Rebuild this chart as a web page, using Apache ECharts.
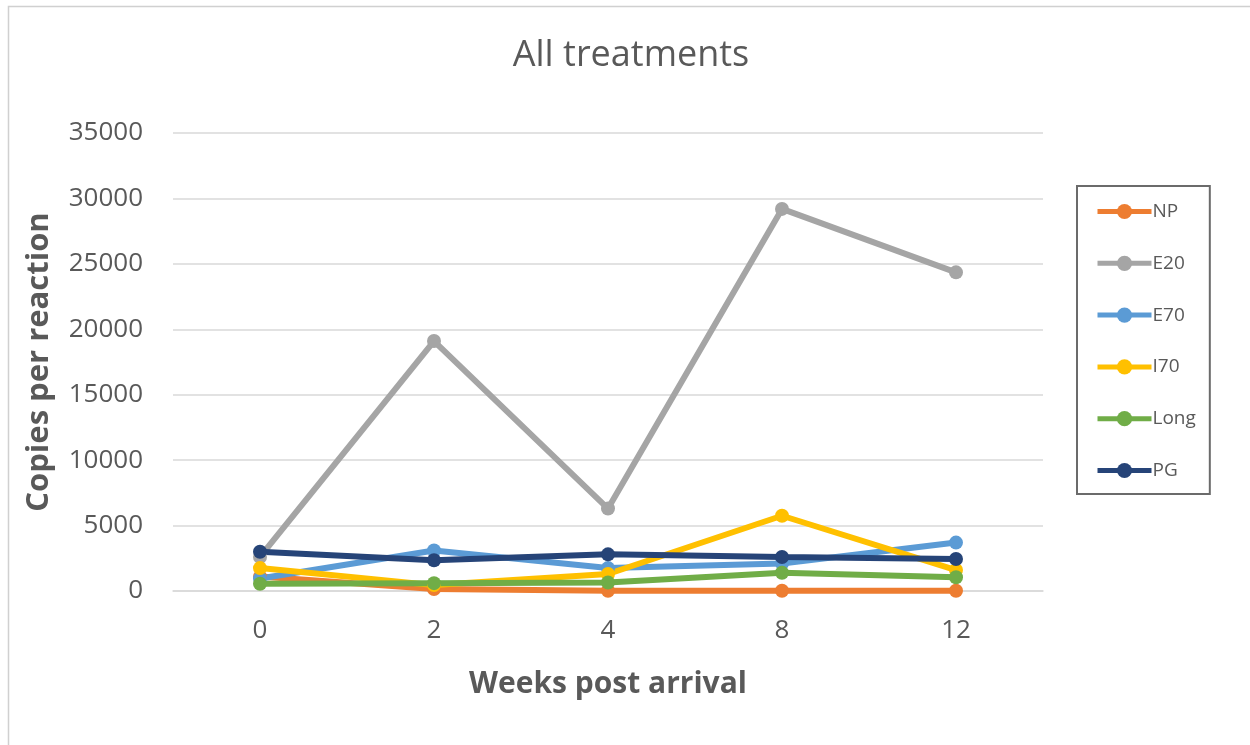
<!DOCTYPE html>
<html>
<head>
<meta charset="utf-8">
<title>All treatments</title>
<script src="https://cdn.jsdelivr.net/npm/echarts@6/dist/echarts.min.js"></script>
<style>
  html, body { margin: 0; padding: 0; background: #ffffff; }
  #chart { width: 1250px; height: 745px; }
</style>
</head>
<body>
<div id="chart"></div>
<script>
// Sampling weeks after arrival
const weeks = ['0', '2', '4', '8', '12'];

// Copies per reaction for each treatment
const NP   = [1100, 150, 20, 20, 20];
const E20  = [2600, 19100, 6300, 29200, 24350];
const E70  = [950, 3100, 1750, 2100, 3700];
const I70  = [1750, 450, 1300, 5750, 1600];
const Long = [550, 600, 650, 1400, 1050];
const PG   = [3000, 2350, 2800, 2600, 2450];

const yTicks = { min: 0, max: 35000, step: 5000 };

const seriesDefs = [
  { name: 'NP',   data: NP,   color: '#ed7d31' },
  { name: 'E20',  data: E20,  color: '#a5a5a5' },
  { name: 'E70',  data: E70,  color: '#5b9bd5' },
  { name: 'I70',  data: I70,  color: '#ffc000' },
  { name: 'Long', data: Long, color: '#70ad47' },
  { name: 'PG',   data: PG,   color: '#264478' }
];

const textColor = '#595959';
const fontFamily = '"Open Sans", Lato, "Noto Sans", sans-serif';

const chart = echarts.init(document.getElementById('chart'), null, { renderer: 'canvas' });

chart.setOption({
  animation: false,
  backgroundColor: '#ffffff',
  textStyle: { fontFamily: fontFamily },
  graphic: [
    {
      type: 'rect',
      shape: { x: 8.5, y: 6.5, width: 1260, height: 760 },
      style: { fill: 'none', stroke: '#d0d0d0', lineWidth: 1.5 },
      silent: true
    }
  ],
  title: {
    text: 'All treatments',
    left: 626,
    top: 33,
    textAlign: 'center',
    textStyle: { fontSize: 36, fontWeight: 'normal', color: textColor, fontFamily: fontFamily }
  },
  legend: {
    orient: 'vertical',
    left: 1077,
    top: 186,
    padding: [16, 14, 14, 18],
    itemGap: 32.8,
    itemWidth: 54,
    itemHeight: 19,
    borderColor: '#6b6b6b',
    borderWidth: 2,
    lineStyle: { width: 5 },
    textStyle: { fontSize: 19, color: textColor, fontFamily: fontFamily, padding: [0, 0, 0, -4] },
    data: seriesDefs.map(s => s.name)
  },
  grid: { left: 173, right: 207, top: 133, bottom: 154 },
  xAxis: {
    type: 'category',
    data: weeks,
    boundaryGap: true,
    name: 'Weeks post arrival',
    nameLocation: 'middle',
    nameGap: 78,
    nameTextStyle: { fontSize: 30, fontWeight: 'bold', color: textColor, fontFamily: fontFamily },
    axisLine: { show: true, lineStyle: { color: '#d9d9d9', width: 1.5 } },
    axisTick: { show: false },
    axisLabel: { fontSize: 26, color: textColor, margin: 27, fontFamily: fontFamily }
  },
  yAxis: {
    type: 'value',
    min: yTicks.min,
    max: yTicks.max,
    interval: yTicks.step,
    name: 'Copies per reaction',
    nameLocation: 'middle',
    nameGap: 118,
    nameTextStyle: { fontSize: 31, fontWeight: 'bold', color: textColor, fontFamily: fontFamily },
    axisLine: { show: false },
    axisTick: { show: false },
    axisLabel: { fontSize: 26, color: textColor, margin: 30, fontFamily: fontFamily, formatter: v => String(v) },
    splitLine: { lineStyle: { color: '#d9d9d9', width: 1.5 } }
  },
  series: seriesDefs.map(s => ({
    name: s.name,
    type: 'line',
    data: s.data,
    symbol: 'circle',
    symbolSize: 14,
    showAllSymbol: true,
    color: s.color,
    itemStyle: { color: s.color },
    lineStyle: { color: s.color, width: 6 }
  }))
});
</script>
</body>
</html>
